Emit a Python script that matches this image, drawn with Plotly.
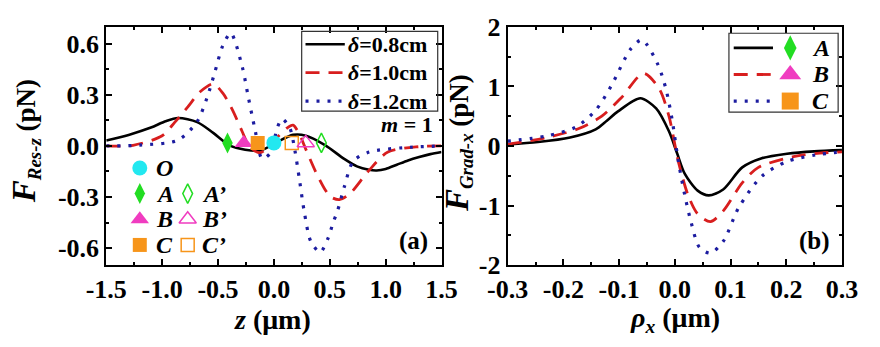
import plotly.graph_objects as go

# ---------------- panel (a): resultant axial force vs z ----------------
z_08 = [-1.5, -1.3, -1.1, -0.97, -0.857, -0.686, -0.543, -0.4, -0.257, -0.114,
        0.029, 0.171, 0.286, 0.457, 0.629, 0.743, 0.85, 0.92, 1.0, 1.1, 1.2, 1.3, 1.4, 1.5]
f_08 = [0.032, 0.065, 0.108, 0.145, 0.164, 0.14, 0.077, 0.005, -0.022, -0.025,
        0.023, 0.065, 0.06, 0.005, -0.076, -0.12, -0.14, -0.144, -0.135, -0.11, -0.085, -0.065, -0.048, -0.036]

z_10 = [-1.5, -1.26, -1.0, -0.886, -0.77, -0.657, -0.543, -0.457, -0.371, -0.286, -0.217,
        -0.13, -0.05, 0.029, 0.114, 0.171, 0.229, 0.286, 0.371, 0.457, 0.51, 0.586, 0.68,
        0.85, 1.02, 1.3, 1.5]
f_10 = [0.0, 0.004, 0.06, 0.14, 0.23, 0.32, 0.365, 0.31, 0.212, 0.088, -0.004,
        -0.04, -0.01, 0.05, 0.104, 0.122, 0.068, -0.02, -0.148, -0.256, -0.30, -0.315, -0.28,
        -0.144, -0.036, -0.004, 0.0]

z_12 = [-1.5, -1.2, -0.86, -0.69, -0.6, -0.53, -0.457, -0.386, -0.285, -0.228, -0.17,
        -0.105, -0.03, 0.029, 0.072, 0.143, 0.186, 0.229, 0.27, 0.33, 0.414, 0.486, 0.53,
        0.57, 0.63, 0.71, 0.85, 1.16, 1.5]
f_12 = [0.0, 0.005, 0.034, 0.14, 0.28, 0.43, 0.59, 0.663, 0.47, 0.284, 0.10,
        -0.075, -0.04, 0.104, 0.159, 0.104, -0.02, -0.2, -0.38, -0.56, -0.625, -0.54, -0.45,
        -0.38, -0.24, -0.09, -0.036, -0.01, 0.0]

# equilibrium / trapping positions marked on the axis
pos_names = ["A", "B", "C", "O", "C'", "B'", "A'"]
pos_z = [-0.415, -0.27, -0.145, 0.0, 0.16, 0.285, 0.425]
pos_f = [0.018, 0.018, 0.018, 0.018, 0.018, 0.018, 0.018]

# ---------------- panel (b): transverse gradient force vs rho_x ----------------
r_A = [-0.3, -0.2455, -0.188, -0.142, -0.122, -0.102, -0.062, -0.0335, -0.0105, 0.0038, 0.018,
       0.041, 0.061, 0.0868, 0.121, 0.156, 0.2015, 0.25, 0.3]
g_A = [0.025, 0.066, 0.143, 0.28, 0.425, 0.58, 0.80, 0.63, 0.246, -0.114, -0.47,
       -0.75, -0.83, -0.73, -0.36, -0.206, -0.13, -0.09, -0.07]

r_B = [-0.3, -0.229, -0.171, -0.131, -0.096, -0.056, -0.028, -0.0105, 0.0066, 0.024,
       0.041, 0.064, 0.087, 0.121, 0.150, 0.213, 0.26, 0.3]
g_B = [0.03, 0.143, 0.297, 0.50, 0.81, 1.22, 0.96, 0.50, -0.27, -0.83,
       -1.14, -1.27, -1.09, -0.62, -0.36, -0.18, -0.12, -0.1]

r_C = [-0.3, -0.229, -0.177, -0.142, -0.114, -0.079, -0.059, -0.0305, -0.016, -0.005,
       0.0066, 0.018, 0.0295, 0.044, 0.064, 0.087, 0.115, 0.156, 0.2015, 0.253, 0.3]
g_C = [0.08, 0.17, 0.32, 0.60, 1.01, 1.63, 1.78, 1.37, 0.96, 0.45,
       -0.27, -0.83, -1.29, -1.70, -1.80, -1.60, -1.03, -0.51, -0.26, -0.15, -0.1]

BLACK = "#000000"
RED = "#d81e1e"
BLUE = "#1c1ca0"
CYAN = "#22e8f0"
GREEN = "#22dd22"
MAGENTA = "#f03cc0"
ORANGE = "#f7951a"

LINE_STYLES = [
    dict(color=BLACK, width=2.6, dash="solid"),
    dict(color=RED, width=2.8, dash="14px,9px"),
    dict(color=BLUE, width=3.2, dash="3px,8px"),
]

W, H = 880, 347
FONT = "Liberation Serif, Times New Roman, serif"

fig = go.Figure()

for zs, fs, st in zip([z_08, z_10, z_12], [f_08, f_10, f_12], LINE_STYLES):
    fig.add_trace(go.Scatter(x=zs, y=fs, mode="lines", line=dict(shape="spline", smoothing=0.8, **st),
                             xaxis="x", yaxis="y", showlegend=False, hoverinfo="skip"))

marker_style = {
    "A": dict(symbol="diamond-tall", color=GREEN, size=15),
    "B": dict(symbol="triangle-up", color=MAGENTA, size=16),
    "C": dict(symbol="square", color=ORANGE, size=14),
    "O": dict(symbol="circle", color=CYAN, size=15),
}


def marker_for(name):
    base = marker_style[name[0]]
    if name.endswith("'"):
        return dict(symbol=base["symbol"] + "-open", size=base["size"] - 1,
                    color=base["color"], line=dict(color=base["color"], width=1.5))
    return dict(symbol=base["symbol"], size=base["size"], color=base["color"], line=dict(width=0))


for name, zv, fv in zip(pos_names, pos_z, pos_f):
    fig.add_trace(go.Scatter(x=[zv], y=[fv], mode="markers", marker=marker_for(name),
                             xaxis="x", yaxis="y", showlegend=False, hoverinfo="skip"))

for rs, gs, st in zip([r_A, r_B, r_C], [g_A, g_B, g_C], LINE_STYLES):
    fig.add_trace(go.Scatter(x=rs, y=gs, mode="lines", line=dict(shape="spline", smoothing=0.8, **st),
                             xaxis="x2", yaxis="y2", showlegend=False, hoverinfo="skip"))

# ---------------- layout helpers (pixel coordinates on an overlay axis) ----------------
shapes = []
annotations = []


def text(x, y, s, size=22, xanchor="center", angle=0):
    annotations.append(dict(x=x, y=y, xref="x3", yref="y3", text=s, showarrow=False,
                            xanchor=xanchor, yanchor="middle", textangle=angle,
                            font=dict(family=FONT, size=size, color="black", weight="bold")))


def glyph(x, y, marker):
    fig.add_trace(go.Scatter(x=[x], y=[y], mode="markers", marker=marker, xaxis="x3", yaxis="y3",
                             showlegend=False, hoverinfo="skip", cliponaxis=False))


def sample(x0, x1, y, st):
    fig.add_trace(go.Scatter(x=[x0, x1], y=[y, y], mode="lines", line=st, xaxis="x3", yaxis="y3",
                             showlegend=False, hoverinfo="skip"))


# panel (a) line legend
shapes.append(dict(type="rect", xref="x3", yref="y3", x0=293, x1=435, y0=19, y1=106,
                   line=dict(color="#333333", width=1.2), fillcolor="rgba(0,0,0,0)"))
deltas = ["0.8", "1.0", "1.2"]
for i, (d, st) in enumerate(zip(deltas, LINE_STYLES)):
    y = 33 + i * 31
    sample(297, 338, y, st)
    text(339, y, "<i>δ</i>=%scm" % d, size=22, xanchor="left")
text(432, 121, "<i>m</i> = 1", size=22, xanchor="right")

# panel (a) marker key
key_rows = [("O", None), ("A", "A'"), ("B", "B'"), ("C", "C'")]
for i, (n1, n2) in enumerate(key_rows):
    y = 168 + i * 28
    glyph(124, y, marker_for(n1))
    text(139, y, "<i>%s</i>" % n1, size=24, xanchor="left")
    if n2:
        glyph(174, y, marker_for(n2))
        text(187, y, "<i>%s</i>" % n2.replace("'", "’"), size=24, xanchor="left")

text(410, 248, "(a)", size=25)

# panel (b) legend
shapes.append(dict(type="rect", xref="x3", yref="y3", x0=739, x1=853, y0=21, y1=107,
                   line=dict(color="#333333", width=1.2), fillcolor="rgba(0,0,0,0)"))
for i, (n, st) in enumerate(zip(["A", "B", "C"], LINE_STYLES)):
    y = 37 + i * 29
    sample(744, 785, y, st)
    mk = dict(marker_for(n))
    mk["size"] = mk["size"] + 3
    glyph(803, y, mk)
    text(824, y, "<i>%s</i>" % n, size=24, xanchor="left")

text(828, 248, "(b)", size=25)

# axis titles
text(263, 333, "<i>z</i> (μm)", size=28)
text(683, 333, "<i>ρ<sub>x</sub></i> (μm)", size=28)
text(5, 139, "<span style='font-size:33px'><i>F</i></span><sub><i>Res-z</i></sub> (pN)", size=27, angle=-90)
text(456, 141, "<span style='font-size:33px'><i>F</i></span><sub><i>Grad-x</i></sub> (pN)", size=27, angle=-90)

# ---------------- axes ----------------
tickfont = dict(family=FONT, size=26, color="black", weight="bold")
common = dict(showline=True, linecolor="black", linewidth=2, mirror="ticks", ticks="inside",
              ticklen=6, tickwidth=1.5, tickcolor="black", showgrid=False, zeroline=False,
              tickfont=tickfont, fixedrange=True)

y_dom = [1 - 274 / H, 1 - 14 / H]

fig.update_layout(
    width=W, height=H, margin=dict(l=0, r=0, t=0, b=0),
    paper_bgcolor="white", plot_bgcolor="rgba(0,0,0,0)",
    xaxis=dict(domain=[89 / W, 439 / W], range=[-1.5, 1.5], tickvals=[-1.5, -1.0, -0.5, 0.0, 0.5, 1.0, 1.5],
               ticktext=["-1.5", "-1.0", "-0.5", "0.0", "0.5", "1.0", "1.5"],
               minor=dict(ticks="inside", ticklen=3, tickcolor="black", dtick=0.25, tick0=-1.5),
               anchor="y", **common),
    yaxis=dict(domain=y_dom, range=[-0.7, 0.7], tickvals=[-0.6, -0.3, 0.0, 0.3, 0.6],
               ticktext=["-0.6", "-0.3", "0.0", "0.3", "0.6"],
               minor=dict(ticks="inside", ticklen=3, tickcolor="black", dtick=0.15, tick0=-0.6),
               anchor="x", **common),
    xaxis2=dict(domain=[508 / W, 857 / W], range=[-0.3, 0.3], tickvals=[-0.3, -0.2, -0.1, 0.0, 0.1, 0.2, 0.3],
                ticktext=["-0.3", "-0.2", "-0.1", "0.0", "0.1", "0.2", "0.3"],
                minor=dict(ticks="inside", ticklen=3, tickcolor="black", dtick=0.05, tick0=-0.3),
                anchor="y2", **common),
    yaxis2=dict(domain=y_dom, range=[-2, 2], tickvals=[-2, -1, 0, 1, 2],
                ticktext=["-2", "-1", "0", "1", "2"],
                minor=dict(ticks="inside", ticklen=3, tickcolor="black", dtick=0.5, tick0=-2),
                anchor="x2", **common),
    xaxis3=dict(domain=[0, 1], range=[0, W], visible=False, fixedrange=True, anchor="y3"),
    yaxis3=dict(domain=[0, 1], range=[H, 0], visible=False, fixedrange=True, anchor="x3"),
    shapes=shapes, annotations=annotations,
)

fig.write_html("out.html")
